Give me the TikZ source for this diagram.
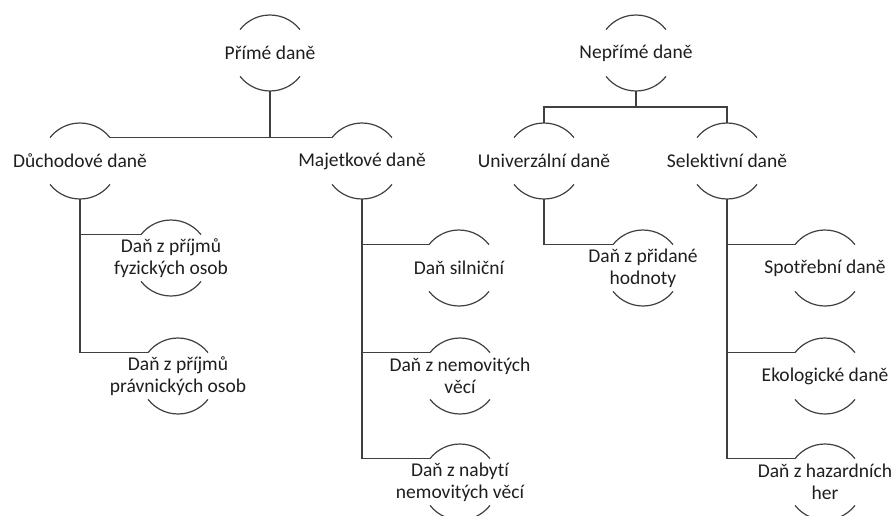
\documentclass[tikz,border=0pt]{standalone}
\usepackage{fontspec}
\setmainfont{Carlito}[Ligatures={NoCommon}]
\definecolor{linec}{RGB}{64,64,64}
\definecolor{txtc}{RGB}{30,30,30}
\begin{document}
\begin{tikzpicture}[x=1pt,y=1pt,
  ring/.style={circle,minimum size=76pt,inner sep=0pt,outer sep=0pt,draw=none},
  lbl/.style={align=center,inner sep=0pt,text=txtc,font=\fontsize{19.5}{22}\selectfont},
  conn/.style={draw=linec,line width=1.2pt},
  arcline/.style={draw=linec,line width=1.2pt}]
\useasboundingbox (0,0) rectangle (894,-515);
\clip (0,0) rectangle (894,-515);
% circles (invisible shapes)
\node[ring] (pd) at (270,-53) {};
\node[ring] (npd) at (636,-53) {};
\node[ring] (dd) at (80,-161) {};
\node[ring] (md) at (362,-161) {};
\node[ring] (ud) at (544,-161) {};
\node[ring] (sd) at (727,-161) {};
\node[ring] (a1) at (171,-258) {};
\node[ring] (a2) at (178,-376) {};
\node[ring] (b1) at (459,-268) {};
\node[ring] (b2) at (460,-376) {};
\node[ring] (b3) at (460,-482) {};
\node[ring] (c1) at (643,-268) {};
\node[ring] (e1) at (825,-268) {};
\node[ring] (e2) at (825,-376) {};
\node[ring] (e3) at (825,-482) {};
% labels
\node[lbl] (pdt) at (pd) {Přímé daně};
\node[lbl] (npdt) at (npd) {Nepřímé daně};
\node[lbl] (ddt) at (dd) {Důchodové daně};
\node[lbl] (mdt) at (md) {Majetkové daně};
\node[lbl] (udt) at (ud) {Univerzální daně};
\node[lbl] (sdt) at (sd) {Selektivní daně};
\node[lbl] (a1t) at (a1) {Daň z příjmů\\fyzických osob};
\node[lbl] (a2t) at (a2) {Daň z příjmů\\právnických osob};
\node[lbl] (b1t) at (b1) {Daň silniční};
\node[lbl] (b2t) at (b2) {Daň z nemovitých\\věcí};
\node[lbl] (b3t) at (b3) {Daň z nabytí\\nemovitých věcí};
\node[lbl] (c1t) at (c1) {Daň z přidané\\hodnoty};
\node[lbl] (e1t) at (e1) {Spotřební daně};
\node[lbl] (e2t) at (e2) {Ekologické daně};
\node[lbl] (e3t) at (e3) {Daň z hazardních\\her};
% arcs
\foreach \n in {pd,npd,dd,md,ud,sd,a1,a2,b1,b2,b3,c1,e1,e2,e3}
  \draw[arcline] (\n.38) arc[start angle=38,end angle=142,radius=38pt]
                 (\n.218) arc[start angle=218,end angle=322,radius=38pt];
% connectors: direct taxes
\draw[conn] (dd.38) -- (md.142);
\draw[conn] (pd.south) -- (pd.south |- dd.38);
% indirect taxes
\coordinate (bus) at ([yshift=-16pt]npd.south);
\draw[conn] (npd.south) -- (bus);
\draw[conn] (ud.north) |- (bus) -| (sd.north);
% children
\draw[conn] (dd.south) |- (a2.142);
\draw[conn] (dd.south |- a1.142) -- (a1.142);
\draw[conn] (md.south) |- (b3.142);
\draw[conn] (md.south |- b1.142) -- (b1.142);
\draw[conn] (md.south |- b2.142) -- (b2.142);
\draw[conn] (ud.south) |- (c1.142);
\draw[conn] (sd.south) |- (e3.142);
\draw[conn] (sd.south |- e1.142) -- (e1.142);
\draw[conn] (sd.south |- e2.142) -- (e2.142);
\end{tikzpicture}
\end{document}
